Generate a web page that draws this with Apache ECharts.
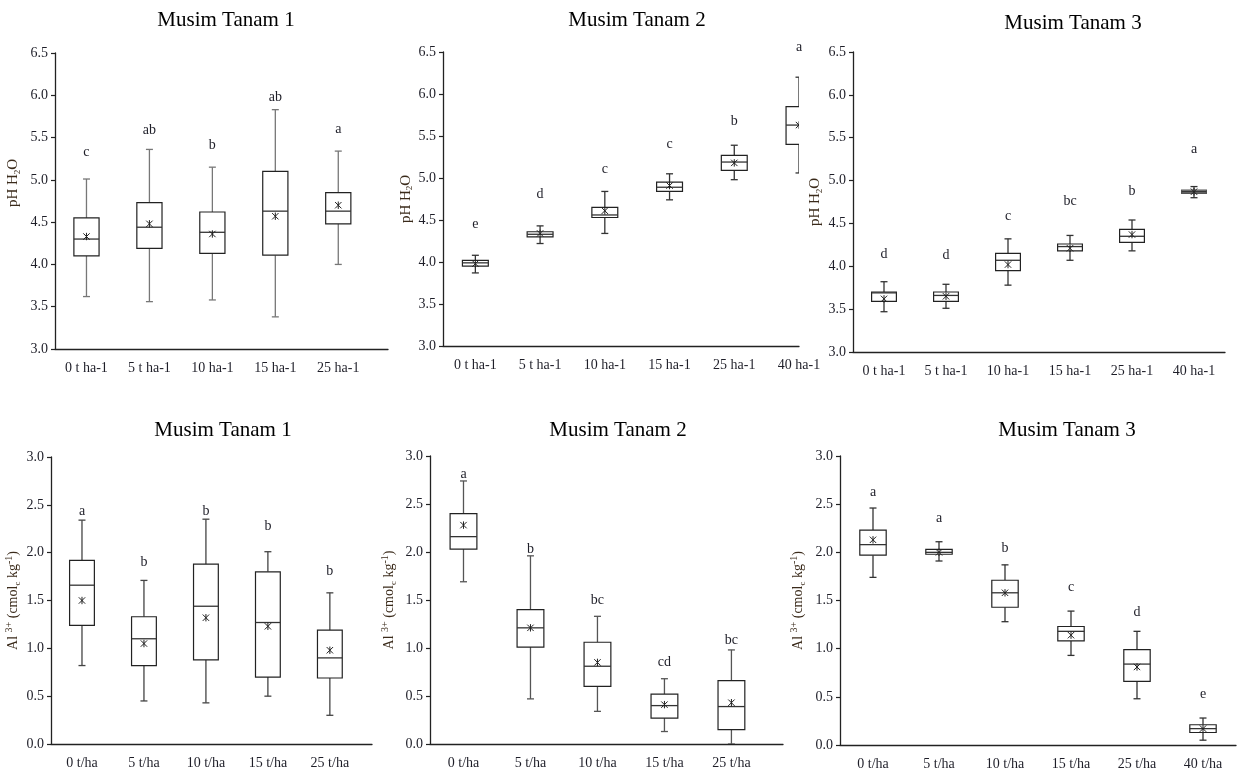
<!DOCTYPE html>
<html><head><meta charset="utf-8">
<script src="https://cdn.jsdelivr.net/npm/echarts@6/dist/echarts.min.js"></script>
<style>html,body{margin:0;padding:0;background:#fff}#c{width:1238px;height:771px}</style>
</head><body><div id="c"></div>
<script>
// ---------- data ----------
const catsPH = ['0 t ha-1', '5 t ha-1', '10 ha-1', '15 ha-1', '25 ha-1', '40 ha-1'];
const catsAl = ['0 t/ha', '5 t/ha', '10 t/ha', '15 t/ha', '25 t/ha', '40 t/ha'];
const yTicksPH = [3.0, 6.5];
const yTicksAl = [0.0, 3.0];

// [min, Q1, median, Q3, max]
const ph1Box = [[3.62,4.10,4.30,4.55,5.01],[3.56,4.19,4.44,4.73,5.36],[3.58,4.13,4.38,4.62,5.15],[3.38,4.11,4.63,5.10,5.83],[4.00,4.48,4.63,4.85,5.34]];
const ph1Mean = [4.33,4.48,4.36,4.57,4.70];
const ph1Letters = ['c','ab','b','ab','a'];
const ph1LetterY = [5.32,5.59,5.41,5.98,5.60];

const ph2Box = [[3.87,3.95,3.99,4.02,4.08],[4.22,4.30,4.33,4.36,4.43],[4.34,4.53,4.56,4.65,4.84],[4.74,4.84,4.89,4.95,5.05],[4.98,5.09,5.19,5.27,5.39],[5.06,5.40,5.63,5.85,6.20]];
const ph2Mean = [3.98,4.34,4.61,4.91,5.18,5.63];
const ph2Letters = ['e','d','c','c','b','a'];
const ph2LetterY = [4.45,4.81,5.10,5.40,5.68,6.56];

const ph3Box = [[3.47,3.59,3.69,3.70,3.82],[3.51,3.59,3.66,3.70,3.79],[3.78,3.95,4.07,4.15,4.32],[4.07,4.18,4.23,4.26,4.36],[4.18,4.28,4.35,4.43,4.54],[4.80,4.85,4.87,4.89,4.93]];
const ph3Mean = [3.62,3.65,4.02,4.21,4.37,4.87];
const ph3Letters = ['d','d','c','bc','b','a'];
const ph3LetterY = [4.14,4.13,4.58,4.76,4.87,5.37];

const al1Box = [[0.82,1.24,1.66,1.92,2.34],[0.45,0.82,1.10,1.33,1.71],[0.43,0.88,1.44,1.88,2.35],[0.50,0.70,1.27,1.80,2.01],[0.30,0.69,0.90,1.19,1.58]];
const al1Mean = [1.50,1.05,1.32,1.23,0.98];
const al1Letters = ['a','b','b','b','b'];
const al1LetterY = [2.43,1.90,2.43,2.28,1.81];

const al2Box = [[1.69,2.03,2.16,2.40,2.74],[0.47,1.01,1.21,1.40,1.96],[0.34,0.60,0.81,1.06,1.33],[0.13,0.27,0.40,0.52,0.68],[0.00,0.15,0.39,0.66,0.98]];
const al2Mean = [2.28,1.21,0.85,0.41,0.43];
const al2Letters = ['a','b','bc','cd','bc'];
const al2LetterY = [2.81,2.03,1.50,0.85,1.08];

const al3Box = [[1.74,1.97,2.08,2.23,2.46],[1.91,1.98,2.00,2.03,2.11],[1.28,1.43,1.58,1.71,1.87],[0.93,1.08,1.18,1.23,1.39],[0.48,0.66,0.84,0.99,1.18],[0.05,0.13,0.17,0.21,0.28]];
const al3Mean = [2.13,2.00,1.58,1.14,0.81,0.17];
const al3Letters = ['a','a','b','c','d','e'];
const al3LetterY = [2.62,2.35,2.04,1.64,1.38,0.53];

// ---------- layout / style ----------
const FONT = '"Liberation Serif","Times New Roman",serif';
const TXT = '#1e1e28';
const NAMEC = '#3a2a1a';
const phName = '{t|pH H}{sub|2}{t|O}';
const alName = '{t|Al }{sup|3+}{t| (cmol}{sub|c}{t| kg}{sup|-1}{t|)}';

const panels = [
  {title:'Musim Tanam 1', cats:catsPH, box:ph1Box, mean:ph1Mean, letters:ph1Letters, letterY:ph1LetterY, yr:yTicksPH, name:phName,
   grid:[55,53,333,296], xMax:5.29, tp:[226,20], gap:33, pad:[0,0,0,36], whisker:'#777', nfs:15},
  {title:'Musim Tanam 2', cats:catsPH, box:ph2Box, mean:ph2Mean, letters:ph2Letters, letterY:ph2LetterY, yr:yTicksPH, name:phName,
   grid:[443,52,356,294], xMax:5.5, tp:[637,20], gap:26, pad:[0,0,0,0], whisker:'#333', nfs:15},
  {title:'Musim Tanam 3', cats:catsPH, box:ph3Box, mean:ph3Mean, letters:ph3Letters, letterY:ph3LetterY, yr:yTicksPH, name:phName,
   grid:[853,52,372,300], xMax:6, tp:[1073,23], gap:29, pad:[0,0,0,0], whisker:'#333', nfs:15, shade:[5]},
  {title:'Musim Tanam 1', cats:catsAl, box:al1Box, mean:al1Mean, letters:al1Letters, letterY:al1LetterY, yr:yTicksAl, name:alName,
   grid:[51,457,321,287], xMax:5.18, tp:[223,430], gap:29, pad:[0,0,0,0], whisker:'#444', nfs:14},
  {title:'Musim Tanam 2', cats:catsAl, box:al2Box, mean:al2Mean, letters:al2Letters, letterY:al2LetterY, yr:yTicksAl, name:alName,
   grid:[430,456,353,288], xMax:5.27, tp:[618,430], gap:32, pad:[0,0,0,0], whisker:'#555', nfs:14},
  {title:'Musim Tanam 3', cats:catsAl, box:al3Box, mean:al3Mean, letters:al3Letters, letterY:al3LetterY, yr:yTicksAl, name:alName,
   grid:[840,456,396,291], xMax:6, tp:[1067,430], gap:33, pad:[0,0,0,0], whisker:'#333', nfs:14}
];

function makeBox(p) {
  return function (params, api) {
    const x = api.value(0);
    const v = [1,2,3,4,5,6].map(d => api.value(d));
    const band = api.size([1, 0])[0];
    const hw = band * 0.2;
    const cx = api.coord([x, v[2]])[0];
    const Y = val => api.coord([x, val])[1];
    const yLo = Y(v[0]), yQ1 = Y(v[1]), yMed = Y(v[2]), yQ3 = Y(v[3]), yHi = Y(v[4]), yMean = Y(v[5]);
    const cap = 3.5, m = 3.2;
    const wl = {stroke: p.whisker, lineWidth: 1.3};
    const shaded = (p.shade || []).indexOf(params.dataIndex) >= 0;
    const ml = {stroke: '#222', lineWidth: 1};
    return {type: 'group', children: [
      {type:'line', shape:{x1:cx, y1:yHi, x2:cx, y2:yQ3}, style:wl},
      {type:'line', shape:{x1:cx, y1:yQ1, x2:cx, y2:yLo}, style:wl},
      {type:'line', shape:{x1:cx-cap, y1:yHi, x2:cx+cap, y2:yHi}, style:wl},
      {type:'line', shape:{x1:cx-cap, y1:yLo, x2:cx+cap, y2:yLo}, style:wl},
      {type:'rect', shape:{x:cx-hw, y:yQ3, width:2*hw, height:Math.max(yQ1-yQ3, 0.5)},
       style:{fill: shaded ? '#8c8c8c' : '#fff', stroke: shaded ? '#555' : '#222', lineWidth:1.2}},
      {type:'line', shape:{x1:cx-hw, y1:yMed, x2:cx+hw, y2:yMed}, style:{stroke:'#333', lineWidth:1.3}},
      {type:'line', shape:{x1:cx-m, y1:yMean-m, x2:cx+m, y2:yMean+m}, style:ml},
      {type:'line', shape:{x1:cx-m, y1:yMean+m, x2:cx+m, y2:yMean-m}, style:ml},
      {type:'line', shape:{x1:cx, y1:yMean-m-0.5, x2:cx, y2:yMean+m+0.5}, style:ml}
    ]};
  };
}

function makeLetter(p) {
  return function (params, api) {
    const pt = api.coord([api.value(0), api.value(1)]);
    return {type:'text', x: pt[0], y: pt[1],
      style:{text: p.letters[params.dataIndex], font: '14px ' + FONT, fill: TXT, align:'center', verticalAlign:'middle'}};
  };
}

const option = {
  animation: false,
  backgroundColor: '#fff',
  grid: panels.map(p => ({left:p.grid[0], top:p.grid[1], width:p.grid[2], height:p.grid[3]})),
  xAxis: panels.map((p, i) => ({
    type:'value', gridIndex:i, min:0, max:p.xMax,
    axisLine:{show:true, onZero:false, lineStyle:{color:'#222', width:1.3}},
    axisTick:{show:false}, splitLine:{show:false},
    axisLabel:{customValues: p.box.map((_, k) => k + 0.5), formatter: v => p.cats[Math.floor(v)],
      margin:12, fontFamily:FONT, fontSize:14, color:TXT}
  })),
  yAxis: panels.map((p, i) => ({
    type:'value', gridIndex:i, min:p.yr[0], max:p.yr[1], interval:0.5,
    axisLine:{show:true, lineStyle:{color:'#222', width:1.3}},
    axisTick:{show:true, length:4, lineStyle:{color:'#222', width:1.2}},
    splitLine:{show:false},
    axisLabel:{formatter: v => v.toFixed(1), margin:7, fontFamily:FONT, fontSize:14, color:TXT},
    name:p.name, nameLocation:'middle', nameGap:p.gap,
    nameTextStyle:{fontFamily:FONT, fontSize:p.nfs, color:NAMEC, padding:p.pad,
      rich:{t:{fontFamily:FONT, fontSize:p.nfs, color:NAMEC, lineHeight:18},
            sup:{fontFamily:FONT, fontSize:10, color:NAMEC, verticalAlign:'top', lineHeight:18},
            sub:{fontFamily:FONT, fontSize:9, color:NAMEC, verticalAlign:'bottom', lineHeight:14}}}
  })),
  series: panels.flatMap((p, i) => [
    {type:'custom', xAxisIndex:i, yAxisIndex:i, clip:true, silent:true,
     data: p.box.map((b, k) => [k + 0.5].concat(b, [p.mean[k]])),
     encode:{x:0, y:[1,2,3,4,5,6]}, renderItem: makeBox(p)},
    {type:'custom', xAxisIndex:i, yAxisIndex:i, clip:false, silent:true,
     data: p.letterY.map((y, k) => [k + 0.5, y]),
     encode:{x:0, y:1}, renderItem: makeLetter(p)}
  ]),
  graphic: panels.map(p => ({type:'text', x:p.tp[0], y:p.tp[1],
    style:{text:p.title, font:'21px ' + FONT, fill:'#000', align:'center', textAlign:'center', verticalAlign:'middle', textVerticalAlign:'middle'}}))
};

const chart = echarts.init(document.getElementById('c'), null, {renderer:'canvas'});
chart.setOption(option);
</script></body></html>
